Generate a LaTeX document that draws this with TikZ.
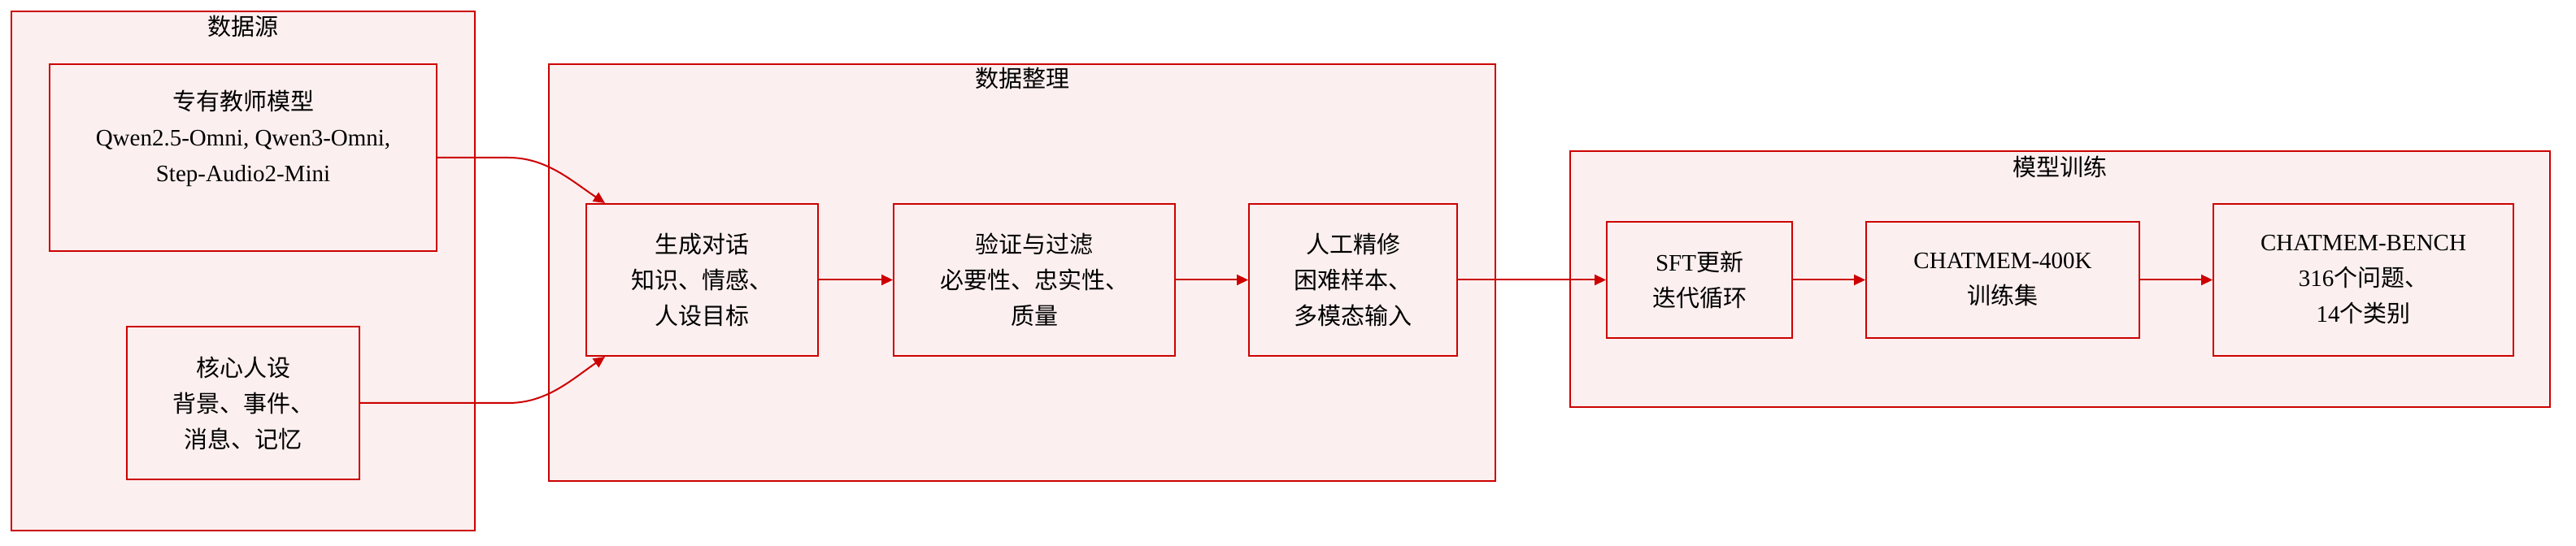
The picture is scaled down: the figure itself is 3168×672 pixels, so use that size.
\documentclass[tikz,border=0pt]{standalone}
\usepackage{fontspec}
\setmainfont{Liberation Serif}
\newfontfamily\cjk{Noto Sans CJK SC}
\usetikzlibrary{arrows.meta}
\definecolor{edgered}{HTML}{CC0000}
\definecolor{pinkbg}{RGB}{252,239,239}
\tikzset{
  grpbox/.style={draw=edgered, fill=pinkbg, line width=1pt, inner sep=0pt},
  stagebox/.style={draw=edgered, fill=pinkbg, line width=1pt, inner sep=0pt, align=center,
    font=\cjk\fontsize{14.5}{22}\selectfont},
  txt/.style={inner sep=0pt, align=center, font=\cjk\fontsize{14.5}{22}\selectfont},
  ttl/.style={inner sep=0pt, anchor=base, font=\cjk\fontsize{14.5}{22}\selectfont},
  arr/.style={draw=edgered, line width=1pt, -{Triangle[length=7pt,width=6.5pt]}}
}
\begin{document}
\begin{tikzpicture}[x=0.5pt,y=-0.5pt]
\useasboundingbox (0,0) rectangle (3168,672);
\fill[white] (0,0) rectangle (3168,672);
% groups
\node[grpbox, minimum width=285pt, minimum height=319.5pt] (src) at (299,333.5) {};
\node[grpbox, minimum width=582pt, minimum height=256.5pt] (org) at (1257,335.5) {};
\node[grpbox, minimum width=602.5pt, minimum height=157.5pt] (trn) at (2533.5,343.5) {};
\node[ttl] (srct) at (299,43.5) {数据源};
\node[ttl] (orgt) at (1257,107.5) {数据整理};
\node[ttl] (trnt) at (2533.5,216.5) {模型训练};
% data sources
\node[stagebox, minimum width=238pt, minimum height=115pt] (teacher) at (299,194) {};
\node[txt] (teachert) at (299,170) {专有教师模型\\\textrm{Qwen2.5-Omni, Qwen3-Omni,}\\\textrm{Step-Audio2-Mini}};
\node[stagebox, minimum width=143pt, minimum height=94pt] (persona) at (299,496) {核心人设\\背景、事件、\\消息、记忆};
% organisation
\node[stagebox, minimum width=142.5pt, minimum height=93.5pt] (gen) at (863.5,344.5) {生成对话\\知识、情感、\\人设目标};
\node[stagebox, minimum width=173pt, minimum height=93.5pt] (ver) at (1272,344.5) {验证与过滤\\必要性、忠实性、\\质量};
\node[stagebox, minimum width=128pt, minimum height=93.5pt] (hum) at (1664,344.5) {人工精修\\困难样本、\\多模态输入};
% training
\node[stagebox, minimum width=114pt, minimum height=71.5pt] (sft) at (2090,344.5) {\textrm{SFT}更新\\迭代循环};
\node[stagebox, minimum width=168pt, minimum height=71.5pt] (k400) at (2463,344.5) {\textrm{CHATMEM-400K}\\训练集};
\node[stagebox, minimum width=184.5pt, minimum height=93.5pt] (bench) at (2906.5,344.5) {\textrm{CHATMEM-BENCH}\\\textrm{316}个问题、\\\textrm{14}个类别};
% connectors
\coordinate (tbend) at (625,194);
\coordinate (pbend) at (625,496);
\draw[arr] (teacher.east) -- (tbend) .. controls (672,194) and (702,222) .. ([xshift=12pt]gen.north west);
\draw[arr] (persona.east) -- (pbend) .. controls (672,496) and (702,468) .. ([xshift=12pt]gen.south west);
\draw[arr] (gen) -- (ver);
\draw[arr] (ver) -- (hum);
\draw[arr] (hum) -- (sft);
\draw[arr] (sft) -- (k400);
\draw[arr] (k400) -- (bench);
\end{tikzpicture}
\end{document}
